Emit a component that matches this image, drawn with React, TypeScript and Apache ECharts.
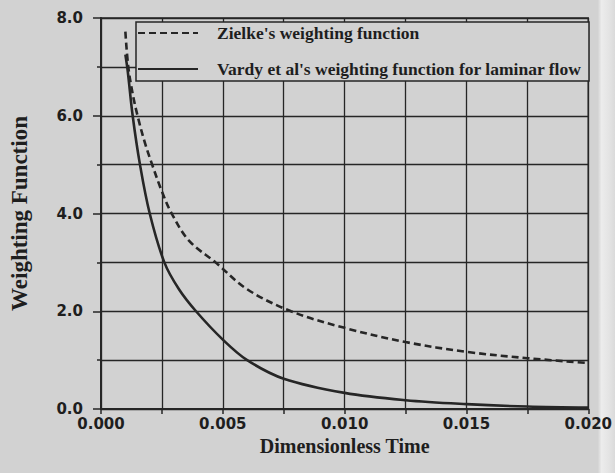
import React, { useEffect, useRef } from "react";
import * as echarts from "echarts";

const zielkeT = [0.001, 0.00112, 0.0013, 0.0015, 0.0018, 0.0021, 0.0025, 0.0029, 0.0036, 0.0047, 0.006, 0.0078, 0.01, 0.0125, 0.015, 0.0175, 0.02];
const zielkeW = [7.72, 7.0, 6.45, 6.0, 5.45, 5.0, 4.45, 4.0, 3.45, 3.0, 2.45, 2.0, 1.66, 1.37, 1.17, 1.04, 0.94];

const vardyT = [0.001, 0.0011, 0.0013, 0.0016, 0.002, 0.0026, 0.0032, 0.0039, 0.005, 0.006, 0.0075, 0.01, 0.0125, 0.015, 0.0175, 0.02];
const vardyW = [7.25, 6.9, 6.0, 5.0, 4.0, 3.0, 2.45, 2.0, 1.42, 1.0, 0.62, 0.33, 0.18, 0.1, 0.05, 0.03];

const seriesNames = ["Zielke's weighting function", "Vardy et al's weighting function for laminar flow"];
const xTitle = "Dimensionless Time";
const yTitle = "Weighting Function";

const BG = "#d2d2d2";
const INK = "#262626";

export default function App() {
  const ref = useRef<HTMLDivElement>(null);
  useEffect(() => {
    document.body.style.margin = "0";
    document.documentElement.style.overflow = "hidden";
    document.body.style.overflow = "hidden";
    if (!ref.current) return;
    const chart = echarts.init(ref.current, null, { renderer: "svg" });
    const tickFont = { fontFamily: "DejaVu Sans", fontWeight: "bold" as const, fontSize: 15, color: "#1e1e1e" };
    chart.setOption({
      animation: false,
      backgroundColor: {
        type: "linear",
        x: 0,
        y: 0,
        x2: 1,
        y2: 0,
        colorStops: [
          { offset: 0, color: BG },
          { offset: 0.972, color: BG },
          { offset: 0.978, color: "#ececec" },
          { offset: 0.99, color: "#e4e4e4" },
          { offset: 1, color: "#dadada" },
        ],
      },
      grid: { left: 100, right: 26, top: 18, bottom: 64, show: true, borderColor: INK, borderWidth: 1.5, backgroundColor: "transparent" },
      xAxis: {
        type: "value",
        min: 0,
        max: 0.02,
        interval: 0.005,
        name: xTitle,
        nameLocation: "middle",
        nameGap: 27,
        nameTextStyle: { fontFamily: "Liberation Serif", fontWeight: "bold", fontSize: 20, color: "#1e1e1e" },
        axisLine: { show: true, lineStyle: { color: INK, width: 2 } },
        axisTick: { show: true, length: 5, lineStyle: { color: INK, width: 1.5 } },
        minorTick: { show: true, splitNumber: 2, length: 5, lineStyle: { color: INK, width: 1.5 } },
        splitLine: { show: true, lineStyle: { color: INK, width: 1.3 } },
        minorSplitLine: { show: true, lineStyle: { color: INK, width: 1.3 } },
        axisLabel: { ...tickFont, margin: 7, formatter: (v: number) => v.toFixed(3) },
      },
      yAxis: {
        type: "value",
        min: 0,
        max: 8,
        interval: 2,
        name: yTitle,
        nameLocation: "middle",
        nameGap: 70,
        nameTextStyle: { fontFamily: "Liberation Serif", fontWeight: "bold", fontSize: 23, color: "#1e1e1e" },
        axisLine: { show: true, lineStyle: { color: INK, width: 2 } },
        axisTick: { show: true, length: 8, lineStyle: { color: INK, width: 1.5 } },
        minorTick: { show: true, splitNumber: 2, length: 4, lineStyle: { color: INK, width: 1.5 } },
        splitLine: { show: true, lineStyle: { color: INK, width: 1.3 } },
        minorSplitLine: { show: true, lineStyle: { color: INK, width: 1.3 } },
        axisLabel: { ...tickFont, margin: 18, formatter: (v: number) => v.toFixed(1) },
      },
      legend: {
        orient: "vertical",
        left: 136,
        top: 22,
        padding: [2, 6, 3, 1],
        itemWidth: 60,
        itemHeight: 14,
        itemGap: 18,
        z: 6,
        itemStyle: { opacity: 0 },
        textStyle: { fontFamily: "Liberation Serif", fontWeight: "bold", fontSize: 17.5, color: "#1e1e1e", padding: [0, 0, 0, 14] },
        data: seriesNames,
      },
      graphic: [
        {
          type: "rect",
          z: 5,
          shape: { x: 136, y: 22, width: 453, height: 59 },
          style: { fill: BG, stroke: INK, lineWidth: 1.5 },
        },
      ],
      series: [
        {
          name: seriesNames[0],
          type: "line",
          symbol: "none",
          smooth: 0.35,
          color: INK,
          z: 3,
          lineStyle: { color: INK, width: 2.6, type: [7, 4] },
          data: zielkeT.map((t, i) => [t, zielkeW[i]]),
        },
        {
          name: seriesNames[1],
          type: "line",
          symbol: "none",
          smooth: 0.35,
          color: INK,
          z: 3,
          lineStyle: { color: INK, width: 2.6 },
          data: vardyT.map((t, i) => [t, vardyW[i]]),
        },
      ],
    });
    return () => chart.dispose();
  }, []);
  return <div ref={ref} style={{ position: "fixed", left: 0, top: 0, width: 615, height: 473 }} />;
}
